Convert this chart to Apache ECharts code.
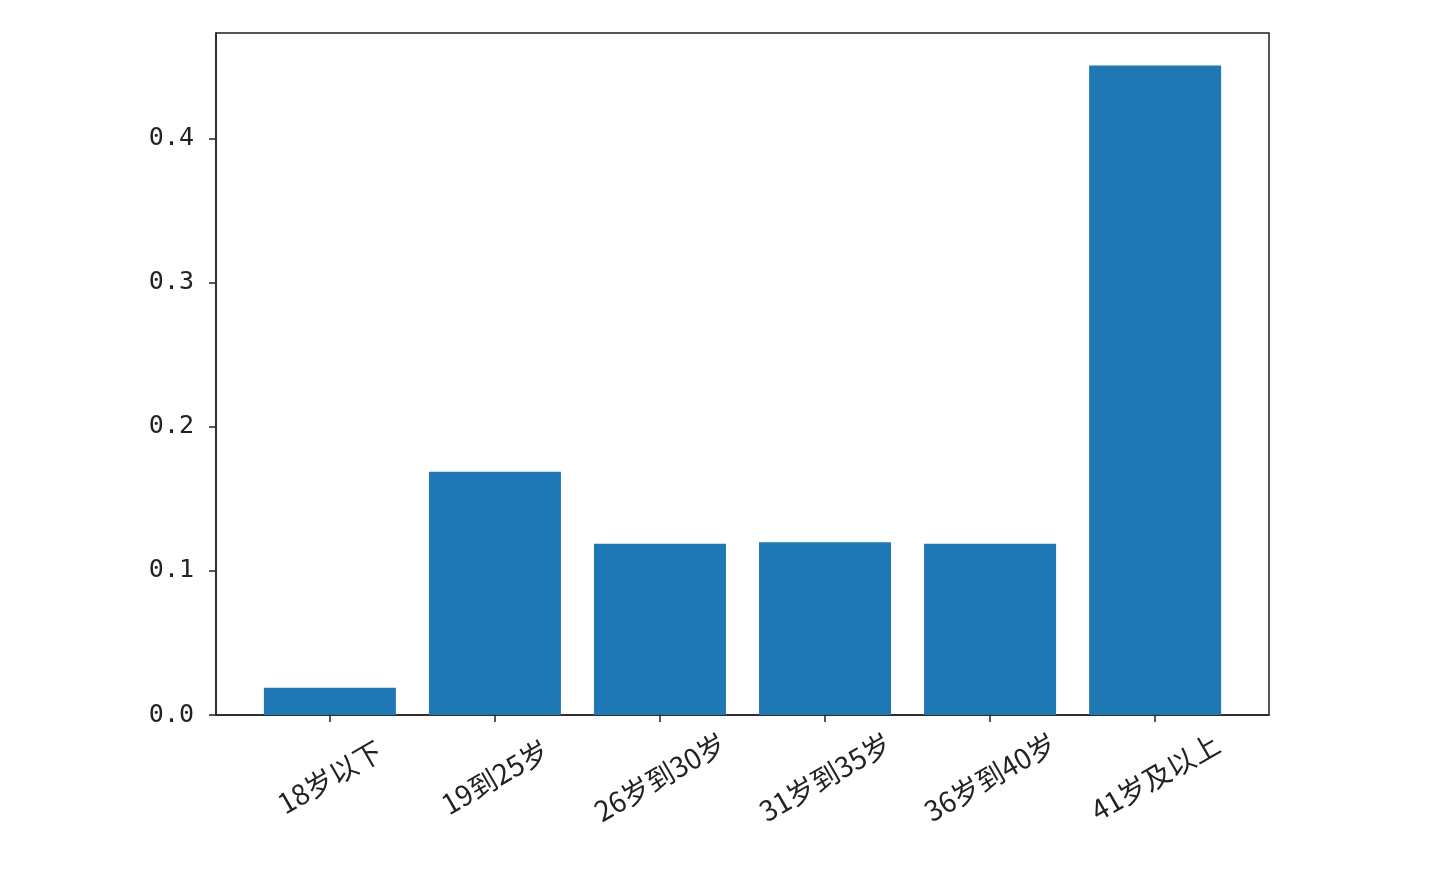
<!DOCTYPE html>
<html>
<head>
<meta charset="utf-8">
<script src="https://cdn.jsdelivr.net/npm/echarts@6/dist/echarts.min.js"></script>
<style>html,body{margin:0;padding:0;background:#fff}#c{width:1432px;height:871px}</style>
</head>
<body>
<div id="c"></div>
<script>
var categories = ['18岁以下', '19到25岁', '26岁到30岁', '31岁到35岁', '36岁到40岁', '41岁及以上'];
var values = [0.019, 0.169, 0.119, 0.120, 0.119, 0.451];
var yTicks = [0, 0.1, 0.2, 0.3, 0.4];
var xPositions = [0, 1, 2, 3, 4, 5];

var chart = echarts.init(document.getElementById('c'), null, {renderer: 'canvas'});
var data = values.map(function (v, i) { return [xPositions[i], v]; });
chart.setOption({
  animation: false,
  grid: {left: 216, right: 163, top: 33, bottom: 156, show: true, borderColor: '#222', borderWidth: 1.5, backgroundColor: 'transparent'},
  xAxis: {
    type: 'value', min: -0.69, max: 5.69,
    splitLine: {show: false},
    axisLine: {show: true, onZero: false, lineStyle: {color: '#222', width: 1.5}},
    axisTick: {show: true, length: 7, customValues: xPositions, lineStyle: {color: '#222', width: 1.5}},
    axisLabel: {
      customValues: xPositions, rotate: 30, margin: 62, align: 'center', verticalAlign: 'middle',
      fontFamily: 'Noto Sans CJK SC', fontSize: 28, color: '#222',
      formatter: function (v) { return categories[Math.round(v)]; }
    }
  },
  yAxis: {
    type: 'value', min: 0, max: 0.4736,
    splitLine: {show: false},
    axisLine: {show: true, onZero: false, lineStyle: {color: '#222', width: 1.5}},
    axisTick: {show: true, length: 7, customValues: yTicks, lineStyle: {color: '#222', width: 1.5}},
    axisLabel: {
      customValues: yTicks, margin: 22,
      fontFamily: 'DejaVu Sans Mono', fontSize: 25, color: '#222',
      formatter: function (v) { return v.toFixed(1); }
    }
  },
  series: [{
    type: 'bar', data: data, barWidth: 132,
    itemStyle: {color: '#1f77b4'}
  }]
});
</script>
</body>
</html>
